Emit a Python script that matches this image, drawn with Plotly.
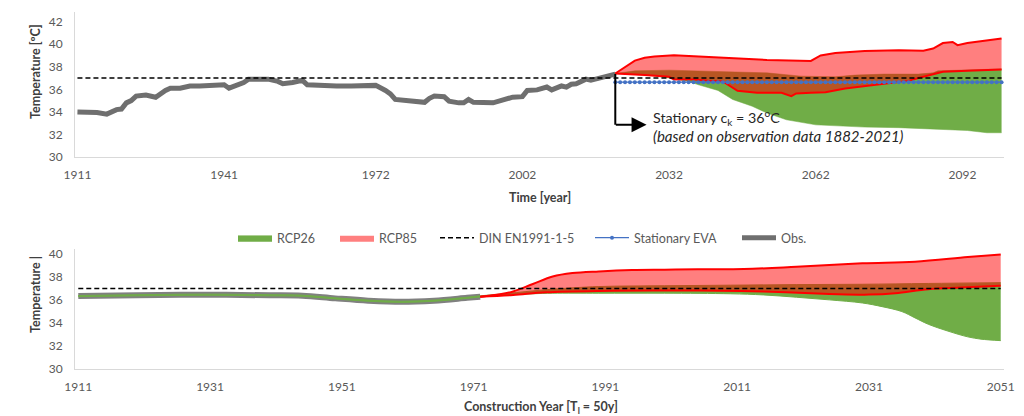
import plotly.graph_objects as go

# The page body adds an 8px margin, so the figure is drawn 8px smaller and
# every reference pixel position is converted with this offset.
OFF = 8
FW, FH = 1016, 408
PLOT_L, PLOT_R = 75, 1004          # plot area in reference pixels
FONT = "Lato, 'Open Sans', 'DejaVu Sans', sans-serif"
TICK_COLOR = "#595959"
TITLE_COLOR = "#404040"
GREEN = "#70ad47"
RED = "#ff0000"
RED_FILL = "rgba(255,0,0,0.5)"
GRAY_TOP = "#6f6f6f"
GRAY_BOT = "#808080"
BLUE = "#4472c4"

# ---------------- top chart data ----------------
top_obs_years = [1911, 1913, 1915, 1917, 1919, 1920, 1921, 1922, 1923, 1925, 1927, 1929, 1930,
                 1932, 1934, 1936, 1939, 1941, 1942, 1944, 1945, 1946, 1950, 1952, 1953, 1955,
                 1957, 1958, 1961, 1964, 1967, 1972, 1974, 1975, 1976, 1980, 1982, 1983, 1984,
                 1986, 1987, 1989, 1990, 1991, 1992, 1996, 1998, 2000, 2002, 2003, 2005, 2007,
                 2008, 2010, 2011, 2012, 2013, 2015, 2016, 2017, 2019, 2021]
top_obs_vals = [34.0, 34.0, 33.95, 33.8, 34.2, 34.25, 34.8, 35.0, 35.4, 35.5, 35.3, 35.9, 36.1,
                36.1, 36.3, 36.3, 36.4, 36.4, 36.1, 36.4, 36.6, 36.9, 36.9, 36.7, 36.5, 36.6,
                36.8, 36.4, 36.3, 36.3, 36.3, 36.35, 35.9, 35.6, 35.1, 35.0, 34.85, 35.2, 35.4,
                35.35, 34.95, 34.8, 34.8, 35.1, 34.85, 34.8, 35.1, 35.3, 35.35, 35.9, 35.95, 36.2,
                35.95, 36.3, 36.2, 36.45, 36.5, 36.9, 36.8, 36.9, 37.2, 37.35]

top_rcp26_up_years = [2021, 2025, 2032, 2038, 2044, 2052, 2059, 2066, 2070, 2076, 2083, 2086, 2087, 2093, 2100]
top_rcp26_up_vals = [37.4, 37.64, 37.7, 37.64, 37.52, 37.46, 37.17, 37.11, 37.26, 37.35, 37.35, 37.46, 37.64, 37.7, 37.81]
top_rcp26_lo_years = [2021, 2028, 2032, 2036, 2038, 2042, 2045, 2049, 2052, 2056, 2062, 2066, 2072, 2079, 2086, 2093, 2097, 2100]
top_rcp26_lo_vals = [37.4, 37.25, 37.0, 36.7, 36.4, 35.9, 35.1, 34.5, 33.9, 33.3, 32.85, 32.75, 32.65, 32.6, 32.45, 32.35, 32.15, 32.15]

top_rcp85_up_years = [2021, 2023, 2025, 2027, 2029, 2033, 2038, 2045, 2052, 2061, 2063, 2066, 2072, 2079, 2084, 2086, 2088, 2090, 2091, 2093, 2096, 2100]
top_rcp85_up_vals = [37.4, 38.0, 38.55, 38.8, 38.9, 39.03, 38.9, 38.75, 38.6, 38.52, 39.0, 39.22, 39.4, 39.47, 39.42, 39.62, 40.1, 40.2, 39.92, 40.1, 40.28, 40.5]
top_rcp85_lo_years = [2021, 2027, 2032, 2033, 2037, 2040, 2043, 2045, 2046, 2050, 2055, 2057, 2058, 2061, 2064, 2068, 2072, 2075, 2081, 2083, 2086, 2088, 2093, 2100]
top_rcp85_lo_vals = [37.4, 37.28, 37.11, 36.87, 36.87, 36.75, 36.7, 36.1, 35.87, 35.7, 35.69, 35.4, 35.64, 35.69, 35.75, 36.08, 36.28, 36.46, 36.75, 37.0, 37.37, 37.55, 37.64, 37.76]

din_years_top = [1911, 2100]
din_vals_top = [37.0, 37.0]
eva_years = list(range(2021, 2101))
eva_vals = [36.63] * len(eva_years)

top_tick_labels = ["1911", "1941", "1972", "2002", "2032", "2062", "2092"]
top_y_ticks = [30, 32, 34, 36, 38, 40, 42]

# ---------------- bottom chart data ----------------
bot_obs_years = [1911, 1920, 1930, 1940, 1945, 1950, 1955, 1960, 1965, 1970, 1972]
bot_obs_vals = [36.35, 36.42, 36.47, 36.42, 36.38, 36.15, 35.95, 35.85, 35.95, 36.2, 36.3]

bot_rcp26_lo_years = [1911, 1920, 1930, 1940, 1945, 1950, 1955, 1960, 1965, 1970, 1972, 1975, 1980, 1983,
                      1990, 2000, 2010, 2015, 2020, 2025, 2030, 2033, 2036, 2038, 2040, 2043, 2046, 2048, 2051]
bot_rcp26_lo_vals = [36.3, 36.37, 36.42, 36.37, 36.33, 36.1, 35.9, 35.8, 35.9, 36.15, 36.27, 36.42, 36.55, 36.6,
                     36.6, 36.6, 36.55, 36.45, 36.25, 36.02, 35.75, 35.43, 35.0, 34.45, 33.9, 33.3, 32.8, 32.6, 32.47]
bot_rcp26_up_years = [1911, 1920, 1930, 1940, 1945, 1950, 1955, 1960, 1965, 1970, 1972, 1975, 1980, 1983,
                      1990, 2000, 2010, 2020, 2030, 2040, 2051]
bot_rcp26_up_vals = [36.4, 36.47, 36.52, 36.47, 36.43, 36.2, 36.0, 35.9, 36.0, 36.25, 36.37, 36.52, 36.8, 36.95,
                     37.18, 37.25, 37.3, 37.35, 37.38, 37.45, 37.52]

bot_rcp85_up_years = [1972, 1975, 1977, 1980, 1983, 1986, 1990, 1995, 2000, 2005, 2012, 2020, 2030, 2038, 2046, 2051]
bot_rcp85_up_vals = [36.3, 36.5, 36.75, 37.4, 38.05, 38.35, 38.5, 38.62, 38.65, 38.68, 38.7, 38.9, 39.2, 39.35, 39.75, 39.97]
bot_rcp85_lo_years = [1972, 1977, 1982, 1990, 2000, 2005, 2015, 2025, 2031, 2035, 2040, 2045, 2051]
bot_rcp85_lo_vals = [36.3, 36.45, 36.68, 36.8, 36.83, 36.83, 36.74, 36.54, 36.48, 36.6, 36.95, 37.09, 37.24]

din_years_bot = [1911, 2051]
din_vals_bot = [37.0, 37.0]

bot_tick_labels = ["1911", "1931", "1951", "1971", "1991", "2011", "2031", "2051"]
bot_y_ticks = [30, 32, 34, 36, 38, 40]


def paper_x(x):
    """reference pixel x -> paper coordinate"""
    return (x - PLOT_L) / (PLOT_R - PLOT_L)


def paper_y(y):
    """reference pixel y -> paper coordinate"""
    return 1 - (y - OFF) / FH


fig = go.Figure()

# ---- top chart traces ----
fig.add_trace(go.Scatter(x=top_obs_years, y=top_obs_vals, mode="lines", name="Obs.",
                         line=dict(color=GRAY_TOP, width=5), legend="legend5",
                         xaxis="x", yaxis="y"))
fig.add_trace(go.Scatter(x=top_rcp26_lo_years, y=top_rcp26_lo_vals, mode="lines", showlegend=False,
                         line=dict(color=GREEN, width=0.5), xaxis="x", yaxis="y"))
fig.add_trace(go.Scatter(x=top_rcp26_up_years, y=top_rcp26_up_vals, mode="lines", name="RCP26",
                         fill="tonexty", fillcolor=GREEN, line=dict(color=GREEN, width=0.5),
                         legend="legend", xaxis="x", yaxis="y"))
fig.add_trace(go.Scatter(x=top_rcp85_lo_years, y=top_rcp85_lo_vals, mode="lines", showlegend=False,
                         line=dict(color=RED, width=0), xaxis="x", yaxis="y"))
fig.add_trace(go.Scatter(x=top_rcp85_up_years, y=top_rcp85_up_vals, mode="lines", name="RCP85",
                         fill="tonexty", fillcolor=RED_FILL, line=dict(color=RED, width=0),
                         legend="legend2", xaxis="x", yaxis="y"))
fig.add_trace(go.Scatter(x=top_rcp85_up_years, y=top_rcp85_up_vals, mode="lines", showlegend=False,
                         line=dict(color=RED, width=2), xaxis="x", yaxis="y"))
fig.add_trace(go.Scatter(x=top_rcp85_lo_years, y=top_rcp85_lo_vals, mode="lines", showlegend=False,
                         line=dict(color=RED, width=2), xaxis="x", yaxis="y"))
fig.add_trace(go.Scatter(x=din_years_top, y=din_vals_top, mode="lines", name="DIN EN1991-1-5",
                         line=dict(color="black", width=1.5, dash="5px,3px"), legend="legend3",
                         xaxis="x", yaxis="y"))
fig.add_trace(go.Scatter(x=eva_years, y=eva_vals, mode="lines+markers", name="Stationary EVA",
                         line=dict(color=BLUE, width=1.2), marker=dict(color=BLUE, size=4),
                         legend="legend4", xaxis="x", yaxis="y"))

# ---- bottom chart traces ----
fig.add_trace(go.Scatter(x=bot_obs_years, y=bot_obs_vals, mode="lines", showlegend=False,
                         line=dict(color=GRAY_BOT, width=6, shape="spline"), xaxis="x2", yaxis="y2"))
fig.add_trace(go.Scatter(x=bot_rcp26_lo_years, y=bot_rcp26_lo_vals, mode="lines", showlegend=False,
                         line=dict(color=GREEN, width=1, shape="spline"), xaxis="x2", yaxis="y2"))
fig.add_trace(go.Scatter(x=bot_rcp26_up_years, y=bot_rcp26_up_vals, mode="lines", showlegend=False,
                         fill="tonexty", fillcolor=GREEN, line=dict(color=GREEN, width=1, shape="spline"),
                         xaxis="x2", yaxis="y2"))
fig.add_trace(go.Scatter(x=bot_rcp85_lo_years, y=bot_rcp85_lo_vals, mode="lines", showlegend=False,
                         line=dict(color=RED, width=0, shape="spline"), xaxis="x2", yaxis="y2"))
fig.add_trace(go.Scatter(x=bot_rcp85_up_years, y=bot_rcp85_up_vals, mode="lines", showlegend=False,
                         fill="tonexty", fillcolor=RED_FILL, line=dict(color=RED, width=0, shape="spline"),
                         xaxis="x2", yaxis="y2"))
fig.add_trace(go.Scatter(x=bot_rcp85_up_years, y=bot_rcp85_up_vals, mode="lines", showlegend=False,
                         line=dict(color=RED, width=2, shape="spline"), xaxis="x2", yaxis="y2"))
fig.add_trace(go.Scatter(x=bot_rcp85_lo_years, y=bot_rcp85_lo_vals, mode="lines", showlegend=False,
                         line=dict(color=RED, width=2, shape="spline"), xaxis="x2", yaxis="y2"))
fig.add_trace(go.Scatter(x=din_years_bot, y=din_vals_bot, mode="lines", showlegend=False,
                         line=dict(color="black", width=1.5, dash="5px,3px"), xaxis="x2", yaxis="y2"))

axis_common = dict(showgrid=False, zeroline=False, showline=True, linecolor="#d9d9d9", linewidth=1,
                   ticks="", tickfont=dict(family=FONT, size=12, color=TICK_COLOR), fixedrange=True)

fig.update_layout(
    width=FW, height=FH,
    margin=dict(l=PLOT_L - OFF, r=FW - (PLOT_R - OFF), t=0, b=0, autoexpand=False),
    paper_bgcolor="white", plot_bgcolor="white",
    font=dict(family=FONT, color=TICK_COLOR),
    xaxis=dict(axis_common, domain=[0, 1], range=[1910.5, 2100.5],
               tickvals=[int(t) for t in top_tick_labels], ticktext=top_tick_labels,
               ticklabelstandoff=7, anchor="y"),
    yaxis=dict(axis_common, domain=[paper_y(157), paper_y(11.5)], range=[30, 42.9],
               tickvals=top_y_ticks, ticklabelstandoff=9, anchor="x"),
    xaxis2=dict(axis_common, domain=[0, 1], range=[1910.5, 2051.5],
                tickvals=[int(t) for t in bot_tick_labels], ticktext=bot_tick_labels,
                ticklabelstandoff=7, anchor="y2"),
    yaxis2=dict(axis_common, domain=[paper_y(369), paper_y(249)], range=[30, 40.45],
                tickvals=bot_y_ticks, ticklabelstandoff=9, anchor="x2"),
)

legend_starts = {"legend": 238, "legend2": 340, "legend3": 440, "legend4": 595, "legend5": 742}
for key, start in legend_starts.items():
    fig.update_layout({key: dict(x=paper_x(start - 5), y=paper_y(238), xanchor="left", yanchor="middle",
                                 orientation="h", bgcolor="rgba(0,0,0,0)", borderwidth=0,
                                 font=dict(family=FONT, size=12.5, color=TICK_COLOR),
                                 itemwidth=34)})

# annotation: L-shaped arrow and text
fig.add_shape(type="line", xref="x", yref="y", x0=2021, x1=2021, y0=37.35, y1=32.85,
              line=dict(color="black", width=2))
fig.add_annotation(xref="x", yref="y", axref="x", ayref="y", x=2027.4, y=32.85, ax=2020.8, ay=32.85,
                   showarrow=True, arrowhead=2, arrowsize=1.5, arrowwidth=2, arrowcolor="black", text="")
fig.add_annotation(xref="paper", yref="paper", x=paper_x(651), y=paper_y(118), xanchor="left", yanchor="middle",
                   text="Stationary c<sub>k</sub> = 36<sup>o</sup>C", showarrow=False,
                   font=dict(family=FONT, size=14.3, color="#262626"))
fig.add_annotation(xref="paper", yref="paper", x=paper_x(651), y=paper_y(136), xanchor="left", yanchor="middle",
                   text="<i>(based on observation data 1882-2021)</i>", showarrow=False,
                   font=dict(family=FONT, size=15, color="#262626"))

# axis titles
title_font = dict(family=FONT, size=12.5, color=TITLE_COLOR)
for tx, ty, txt, ang in [(35, 72, "<b>Temperature [ºC]</b>", -90),
                         (35, 295, "<b>Temperature |</b>", -90),
                         (540, 197, "<b>Time [year]</b>", 0),
                         (541, 407, "<b>Construction Year [T<sub>l</sub> = 50y]</b>", 0)]:
    fig.add_annotation(xref="paper", yref="paper", x=paper_x(tx), y=paper_y(ty), text=txt,
                       textangle=ang, showarrow=False, xanchor="center", yanchor="middle",
                       font=title_font)

fig.write_html("out.html")
